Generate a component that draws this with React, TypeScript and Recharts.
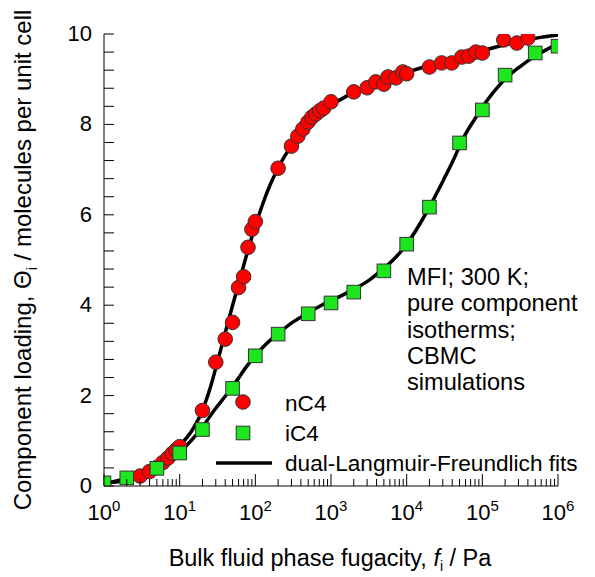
import {ComposedChart, Scatter, Line, XAxis, YAxis, Legend} from "recharts";

// CBMC simulation data, nC4 in MFI at 300 K (fugacity in Pa, loading in molecules/uc)
const nC4Fugacity = [3, 4, 5, 6, 7, 8, 9, 10, 20, 30, 40, 50, 60, 70, 80, 90, 100, 200, 300, 365, 425, 495, 560, 630, 710, 800, 1000, 2000, 3000, 3900, 5000, 5650, 7200, 8900, 10000, 20000, 29000, 39500, 53500, 66000, 82000, 100000, 192000, 286000, 400000];
const nC4Loading = [0.22, 0.32, 0.41, 0.52, 0.62, 0.72, 0.8, 0.87, 1.67, 2.74, 3.25, 3.62, 4.39, 4.63, 5.28, 5.68, 5.85, 7.03, 7.52, 7.74, 7.9, 8.05, 8.16, 8.23, 8.3, 8.36, 8.5, 8.72, 8.81, 8.94, 8.89, 9.05, 9.03, 9.16, 9.12, 9.27, 9.36, 9.36, 9.49, 9.51, 9.6, 9.58, 9.87, 9.8, 9.91];

// iC4
const iC4Fugacity = [1, 2, 5, 10, 20, 50, 100, 200, 500, 1000, 2000, 5000, 10000, 20000, 50000, 100000, 200000, 500000, 1000000];
const iC4Loading = [0.07, 0.18, 0.39, 0.73, 1.25, 2.16, 2.88, 3.36, 3.81, 4.05, 4.29, 4.76, 5.35, 6.17, 7.59, 8.32, 9.09, 9.58, 9.73];

// dual-Langmuir-Freundlich fit curves (log10 of fugacity)
const nC4FitLogF = [0, 0.2, 0.4, 0.52, 0.6, 0.7, 0.8, 0.9, 1.0, 1.1, 1.2, 1.3, 1.4, 1.5, 1.6, 1.7, 1.8, 1.9, 2.0, 2.1, 2.2, 2.3, 2.4, 2.5, 2.6, 2.7, 2.8, 2.9, 3.0, 3.2, 3.4, 3.6, 3.8, 4.0, 4.25, 4.5, 4.75, 5.0, 5.25, 5.5, 5.75, 6.0];
const nC4FitLoading = [0.06, 0.1, 0.16, 0.22, 0.3, 0.4, 0.55, 0.72, 0.9, 1.08, 1.33, 1.67, 2.15, 2.75, 3.38, 4.0, 4.6, 5.2, 5.75, 6.25, 6.68, 7.03, 7.33, 7.57, 7.8, 7.98, 8.15, 8.3, 8.42, 8.62, 8.78, 8.92, 9.04, 9.15, 9.28, 9.4, 9.52, 9.63, 9.74, 9.84, 9.92, 9.98];
const iC4FitLogF = [0, 0.3, 0.5, 0.7, 0.85, 1.0, 1.15, 1.3, 1.45, 1.6, 1.75, 1.9, 2.0, 2.15, 2.3, 2.5, 2.7, 2.9, 3.1, 3.3, 3.5, 3.7, 3.85, 4.0, 4.15, 4.3, 4.45, 4.6, 4.75, 4.9, 5.05, 5.2, 5.35, 5.5, 5.65, 5.8, 6.0];
const iC4FitLoading = [0.05, 0.17, 0.27, 0.4, 0.55, 0.75, 1.0, 1.3, 1.66, 1.98, 2.32, 2.68, 2.88, 3.15, 3.37, 3.63, 3.83, 4.02, 4.18, 4.35, 4.55, 4.82, 5.05, 5.35, 5.73, 6.17, 6.65, 7.15, 7.7, 8.12, 8.5, 8.82, 9.08, 9.28, 9.46, 9.61, 9.79];

// axis ticks
const xMajorTicks = [1, 10, 100, 1000, 10000, 100000, 1000000];
const xMinorFactors = [2, 3, 4, 5, 6, 7, 8, 9];
const yTicks = [0, 0.4, 0.8, 1.2, 1.6, 2, 2.4, 2.8, 3.2, 3.6, 4, 4.4, 4.8, 5.2, 5.6, 6, 6.4, 6.8, 7.2, 7.6, 8, 8.4, 8.8, 9.2, 9.6, 10];

const RED = "#ff0000";
const GREEN = "#1ee61e";
const FONT = "'Liberation Sans', Arial, sans-serif";

const nC4Points = nC4Fugacity.map((f, i) => ({f, q: nC4Loading[i]}));
const iC4Points = iC4Fugacity.map((f, i) => ({f, q: iC4Loading[i]}));
const nC4Fit = nC4FitLogF.map((lf, i) => ({f: Math.pow(10, lf), q: nC4FitLoading[i]}));
const iC4Fit = iC4FitLogF.map((lf, i) => ({f: Math.pow(10, lf), q: iC4FitLoading[i]}));

const xTicks = xMajorTicks.flatMap((m, i) =>
    i === xMajorTicks.length - 1 ? [m] : [m, ...xMinorFactors.map(k => m * k)]
);

interface TickProps {
    x?: number;
    y?: number;
    payload?: {value: number};
}

const XTick = ({x = 0, y = 0, payload}: TickProps) => {
    const v = payload?.value ?? 1;
    const exp = Math.round(Math.log10(v));
    const major = Math.abs(v - Math.pow(10, exp)) < 1e-6 * v;
    return (
        <g>
            <line x1={x} y1={y} x2={x} y2={y - (major ? 12 : 7)} stroke="#000" strokeWidth={1}/>
            {major && (
                <text x={x} y={y + 34} textAnchor="middle" fontSize={22} fill="#000" fontFamily={FONT}>
                    10<tspan dy={-9} fontSize={15}>{exp}</tspan>
                </text>
            )}
        </g>
    );
};

const YTick = ({x = 0, y = 0, payload}: TickProps) => {
    const v = payload?.value ?? 0;
    const major = Math.abs(v / 2 - Math.round(v / 2)) < 1e-6;
    return (
        <g>
            <line x1={x} y1={y} x2={x + 10} y2={y} stroke="#000" strokeWidth={1}/>
            {major && (
                <text x={x - 12} y={y + 7} textAnchor="end" fontSize={22} fill="#000" fontFamily={FONT}>
                    {Math.round(v)}
                </text>
            )}
        </g>
    );
};

interface DotProps {
    cx?: number;
    cy?: number;
}

const CircleDot = ({cx = 0, cy = 0}: DotProps) => (
    <circle cx={cx} cy={cy} r={7.3} fill={RED} stroke="#333" strokeWidth={1}/>
);

const SquareDot = ({cx = 0, cy = 0}: DotProps) => (
    <rect x={cx - 6.8} y={cy - 6.8} width={13.6} height={13.6} fill={GREEN} stroke="#333" strokeWidth={1}/>
);

const LegendBox = () => (
    <svg width={395} height={100} style={{fontFamily: FONT}}>
        <circle cx={43} cy={22} r={7.3} fill={RED} stroke="#333" strokeWidth={1}/>
        <text x={85} y={31} fontSize={22.6} fill="#000">nC4</text>
        <rect x={36.2} y={46.2} width={13.6} height={13.6} fill={GREEN} stroke="#333" strokeWidth={1}/>
        <text x={85} y={61} fontSize={22.6} fill="#000">iC4</text>
        <line x1={16} y1={83} x2={72} y2={83} stroke="#000" strokeWidth={3.5}/>
        <text x={85} y={91} fontSize={22.6} fill="#000">dual-Langmuir-Freundlich fits</text>
    </svg>
);

const notes = ["MFI; 300 K;", "pure component", "isotherms;", "CBMC", "simulations"];

export default function App() {
    return (
        <div style={{position: "absolute", left: 0, top: 0, background: "#fff", fontFamily: FONT}}>
            <ComposedChart
                width={595}
                height={577}
                margin={{top: 34, right: 37, left: 0, bottom: 0}}
                style={{fontFamily: FONT}}
            >
                <XAxis
                    type="number"
                    dataKey="f"
                    scale="log"
                    domain={[1, 1000000]}
                    ticks={xTicks}
                    interval={0}
                    tick={<XTick/>}
                    tickSize={0}
                    tickMargin={0}
                    tickLine={false}
                    axisLine={{stroke: "#000", strokeWidth: 1}}
                    height={91}
                    allowDataOverflow
                />
                <YAxis
                    type="number"
                    dataKey="q"
                    domain={[0, 10]}
                    ticks={yTicks}
                    interval={0}
                    tick={<YTick/>}
                    tickSize={0}
                    tickMargin={0}
                    tickLine={false}
                    axisLine={{stroke: "#000", strokeWidth: 1}}
                    width={104}
                    allowDataOverflow
                />
                <Scatter data={nC4Points} dataKey="q" shape={<CircleDot/>} isAnimationActive={false} legendType="none"/>
                <Scatter data={iC4Points} dataKey="q" shape={<SquareDot/>} isAnimationActive={false} legendType="none"/>
                <Line data={nC4Fit} dataKey="q" type="monotone" stroke="#000" strokeWidth={3.5} dot={false}
                      activeDot={false} isAnimationActive={false} legendType="none"/>
                <Line data={iC4Fit} dataKey="q" type="monotone" stroke="#000" strokeWidth={3.5} dot={false}
                      activeDot={false} isAnimationActive={false} legendType="none"/>
                <Legend
                    content={<LegendBox/>}
                    layout="vertical"
                    align="center"
                    verticalAlign="middle"
                    wrapperStyle={{left: 200, top: 380, width: 395, height: 100}}
                />
                <g fontFamily={FONT} fill="#000">
                    {notes.map((line, i) => (
                        <text key={line} x={407} y={285 + i * 26.3} fontSize={23.6}>{line}</text>
                    ))}
                    <text x={330} y={566} textAnchor="middle" fontSize={23.5}>
                        Bulk fluid phase fugacity, <tspan fontStyle="italic">f</tspan>
                        <tspan dy={5} fontSize={14}>i</tspan>
                        <tspan dy={-5}> / Pa</tspan>
                    </text>
                    <text x={31} y={260} textAnchor="middle" fontSize={24} transform="rotate(-90 31 260)">
                        Component loading, Θ<tspan dy={6} fontSize={14}>i</tspan>
                        <tspan dy={-6}> / molecules per unit cell</tspan>
                    </text>
                </g>
            </ComposedChart>
        </div>
    );
}
